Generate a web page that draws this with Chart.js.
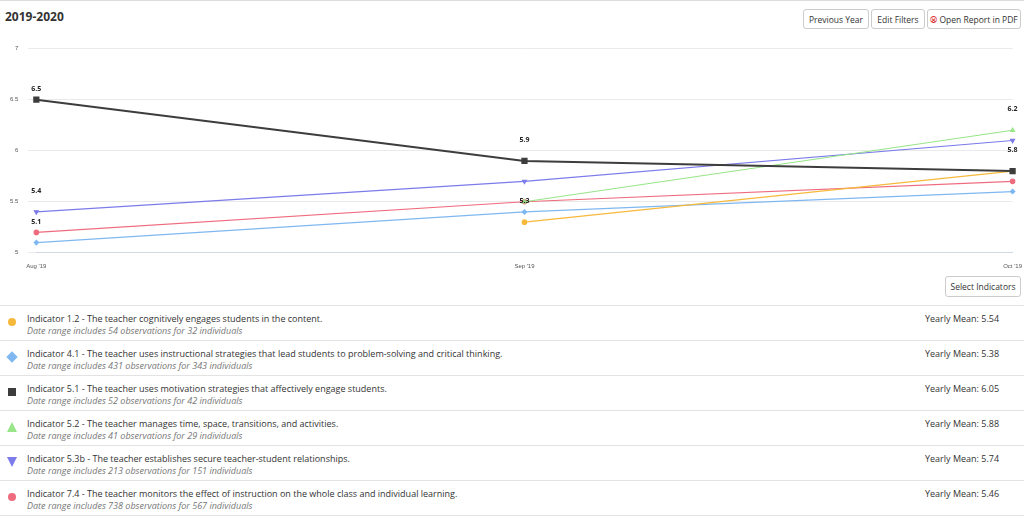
<!DOCTYPE html>
<html><head><meta charset="utf-8">
<script src="https://cdn.jsdelivr.net/npm/chart.js@4"></script>
<style>
body{margin:0;font-family:"Open Sans",sans-serif;width:1024px;height:517px;overflow:hidden;background:#fff;color:#333}
.top{position:absolute;left:0;top:0;width:1024px;height:1px;background:#ddd}
h1{position:absolute;left:5px;top:8px;margin:0;font-size:12px;font-weight:bold;color:#333}
.btn{position:absolute;top:9px;height:20px;border:1px solid #ccc;border-radius:3px;font-size:8.5px;line-height:19px;padding:0;text-align:center;background:#fff;box-sizing:border-box;white-space:nowrap;overflow:hidden}
#wrap{position:absolute;left:0;top:35px;width:1024px;height:237px}
.sel{position:absolute;left:945px;top:276px;height:21px;line-height:20px;width:76px}
.row{position:absolute;left:0;width:1024px;height:35px;border-top:1px solid #e3e3e3;box-sizing:border-box}
.row .t{position:absolute;left:27px;top:6px;font-size:9px;color:#333}
.row .s{position:absolute;left:27px;top:18px;font-size:9px;font-style:italic;color:#777}
.row .m{position:absolute;left:925px;top:6px;font-size:9px;color:#333}
.row svg{position:absolute;left:6px;top:10px}
</style></head><body>
<div class="top"></div>
<h1>2019-2020</h1>
<div class="btn" style="left:803px;width:66px">Previous Year</div>
<div class="btn" style="left:871px;width:54px">Edit Filters</div>
<div class="btn" style="left:927px;width:94px"><span style="color:#d33">&#x2BBF;</span> Open Report in PDF</div>
<div id="wrap"><canvas id="c"></canvas></div>
<div class="btn sel">Select Indicators</div>
<div id="legend"></div>
<script>
const categories=["Aug '19","Sep '19","Oct '19"];
const yTicks=["5","5.5","6","6.5","7"];
const names=["Indicator 1.2 - The teacher cognitively engages students in the content.","Indicator 4.1 - The teacher uses instructional strategies that lead students to problem-solving and critical thinking.","Indicator 5.1 - The teacher uses motivation strategies that affectively engage students.","Indicator 5.2 - The teacher manages time, space, transitions, and activities.","Indicator 5.3b - The teacher establishes secure teacher-student relationships.","Indicator 7.4 - The teacher monitors the effect of instruction on the whole class and individual learning."];
const subs=["Date range includes 54 observations for 32 individuals","Date range includes 431 observations for 343 individuals","Date range includes 52 observations for 42 individuals","Date range includes 41 observations for 29 individuals","Date range includes 213 observations for 151 individuals","Date range includes 738 observations for 567 individuals"];
const means=["5.54","5.38","6.05","5.88","5.74","5.46"];
const s12=[null,5.3,5.8];
const s41=[5.1,5.4,5.6];
const s51=[6.5,5.9,5.8];
const s52=[null,5.5,6.2];
const s53=[5.4,5.7,6.1];
const s74=[5.2,5.5,5.7];
const colors=["#f6b93b","#7fb8f0","#3d3d3d","#98e58a","#7b7bea","#ef6b7e"];
const styles=["circle","rectRot","rect","triangle","triangle","circle"];
const series=[s12,s41,s51,s52,s53,s74];
const labelPts=[[0,2],[0,4],[0,1],[1,2],[1,0],[2,3],[2,2]];
const labelPlugin={id:'vl',afterDatasetsDraw(ch){const c=ch.ctx;c.save();c.font='bold 7px "Open Sans"';c.fillStyle='#222';c.textAlign='center';
labelPts.forEach(([i,d])=>{const p=ch.getDatasetMeta(d).data[i];let y=p.y-19;if(d==2&&i==0)y=p.y-9;c.fillText(series[d][i].toFixed(1),p.x,y);});c.restore();}};
new Chart(document.getElementById('c'),{type:'line',
data:{labels:categories,datasets:series.map((s,i)=>({data:s,order:i==2?-1:0,borderColor:colors[i],backgroundColor:colors[i],borderWidth:i==2?2:1.2,pointStyle:styles[i],rotation:i==4?180:0,pointRadius:i==2?3:2.2,tension:0,spanGaps:false}))},
options:{responsive:true,maintainAspectRatio:false,animation:false,layout:{padding:{left:0,right:8,top:5}},
plugins:{legend:{display:false},tooltip:{enabled:false}},
scales:{x:{offset:false,grid:{display:false},border:{color:'#cfd8e3'},ticks:{font:{size:6},color:'#555',maxRotation:0,padding:2}},
y:{min:5,max:7,ticks:{stepSize:0.5,font:{size:6},color:'#555',padding:10,callback:(v,i)=>yTicks[i]},grid:{color:'#eaeaea'},border:{display:false}}}},
plugins:[labelPlugin]});
const lg=document.getElementById('legend');
names.forEach((n,i)=>{const r=document.createElement('div');r.className='row';r.style.top=(305+i*35)+'px';
const shp=[`<circle cx="6" cy="6" r="4" fill="${colors[0]}"/>`,`<rect x="2" y="2" width="8" height="8" transform="rotate(45 6 6)" fill="${colors[1]}"/>`,`<rect x="2" y="2" width="8" height="8" fill="${colors[2]}"/>`,`<polygon points="6,1 11,11 1,11" fill="${colors[3]}"/>`,`<polygon points="1,1 11,1 6,11" fill="${colors[4]}"/>`,`<circle cx="6" cy="6" r="4" fill="${colors[5]}"/>`][i];
r.innerHTML=`<svg width="12" height="12">${shp}</svg><div class="t">${n}</div><div class="s">${subs[i]}</div><div class="m">Yearly Mean: ${means[i]}</div>`;lg.appendChild(r);});
const last=document.createElement('div');last.className='row';last.style.top='515px';lg.appendChild(last);
</script></body></html>
